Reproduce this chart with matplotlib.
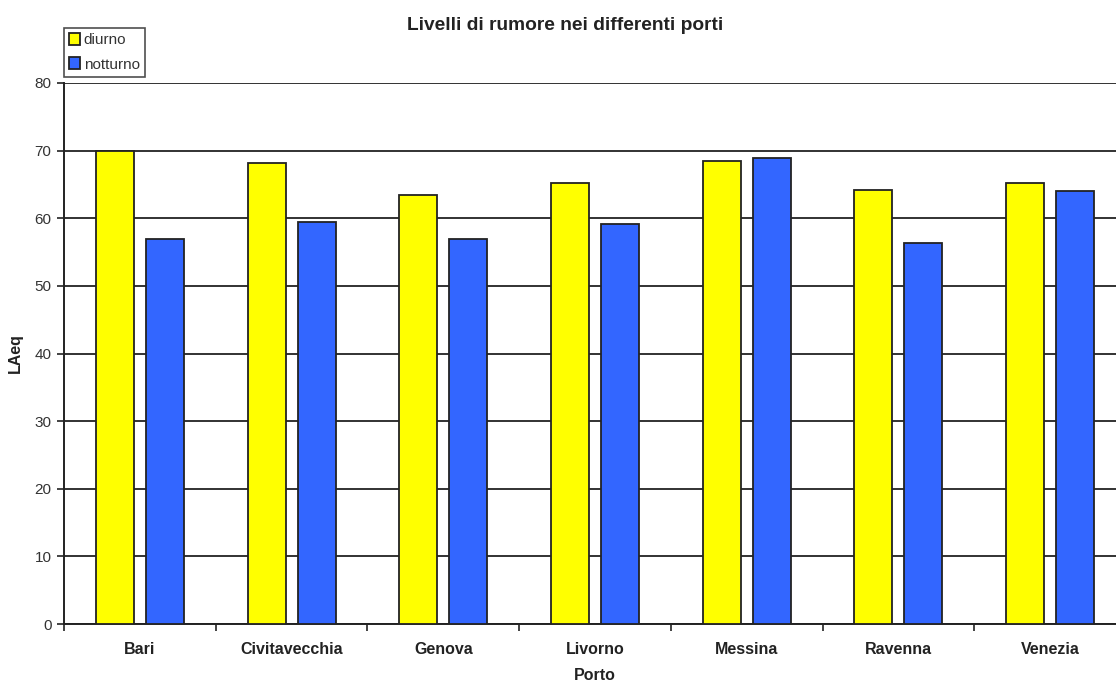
import matplotlib
matplotlib.use("Agg")
import matplotlib.pyplot as plt
import numpy as np

plt.rcParams['font.family'] = ['Liberation Sans', 'DejaVu Sans']

ports = ["Bari", "Civitavecchia", "Genova", "Livorno", "Messina", "Ravenna", "Venezia"]
diurno = [70.0, 68.2, 63.5, 65.2, 68.4, 64.2, 65.2]
notturno = [57.0, 59.5, 57.0, 59.2, 68.9, 56.4, 64.0]
y_ticks = [0, 10, 20, 30, 40, 50, 60, 70, 80]

fig = plt.figure(figsize=(11.16, 6.82), dpi=100)
ax = fig.add_axes([64 / 1116, 58 / 682, 1062 / 1116, 541 / 682])

x = np.arange(len(ports))
w = 0.25
off = 0.165
ax.bar(x - off, diurno, w, color="#FFFF00", edgecolor="#222222", linewidth=1.3,
       label="diurno", zorder=3)
ax.bar(x + off, notturno, w, color="#3366FF", edgecolor="#222222", linewidth=1.3,
       label="notturno", zorder=3)

ax.set_xlim(-0.5, len(ports) - 0.5)
ax.set_ylim(0, 80)
ax.set_yticks(y_ticks)
ax.set_yticklabels([str(v) for v in y_ticks], fontsize=11, color="#333333")
ax.set_xticks(x)
ax.set_xticklabels(ports, fontsize=11.5, fontweight="bold", color="#222222")
ax.set_xticks(np.arange(-0.5, len(ports), 1.0), minor=True)
ax.tick_params(axis="x", which="major", length=0, pad=13)
ax.tick_params(axis="x", which="minor", length=5, width=1.2, direction="out", color="#222222")
ax.tick_params(axis="y", length=5, width=1.2, direction="out", color="#222222", pad=4)

ax.grid(axis="y", color="#222222", linewidth=1.3, zorder=0)
ax.set_axisbelow(True)
for s in ["top", "right"]:
    ax.spines[s].set_visible(False)
for s in ["left", "bottom"]:
    ax.spines[s].set_linewidth(1.4)
    ax.spines[s].set_color("#222222")

ax.set_xlabel("Porto", fontsize=11.5, fontweight="bold", color="#222222", va="center")
ax.set_ylabel("LAeq", fontsize=11.5, fontweight="bold", color="#222222")
ax.yaxis.set_label_coords(-0.0386, 0.5)
ax.xaxis.set_label_coords(0.5, -0.096)

fig.text(565 / 1116, 1 - 25 / 682, "Livelli di rumore nei differenti porti",
         ha="center", va="center", fontsize=13.8, fontweight="bold", color="#222222")

leg = ax.legend(loc="upper left", bbox_to_anchor=(64 / 1116, 1 - 28 / 682),
                bbox_transform=fig.transFigure, fontsize=11, frameon=True,
                fancybox=False, handlelength=0.7, handleheight=0.8,
                handletextpad=0.25, borderpad=0.35, labelspacing=0.65,
                borderaxespad=0)
leg.get_frame().set_edgecolor("#222222")
leg.get_frame().set_linewidth(1.2)
for t in leg.get_texts():
    t.set_color("#333333")

fig.savefig("out.png", dpi=100)
